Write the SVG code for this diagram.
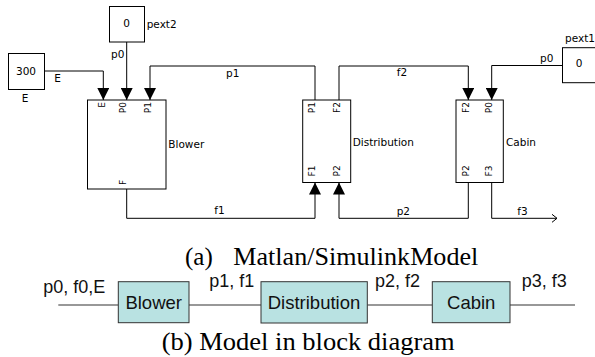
<svg xmlns="http://www.w3.org/2000/svg" width="595" height="357" viewBox="0 0 595 357">
<style>
.bg{fill:#ffffff}
.blk{fill:#ffffff;stroke:#000;stroke-width:1}
.ln{fill:none;stroke:#000;stroke-width:1}
.lbl{font-family:"DejaVu Sans",sans-serif;font-size:10.5px;fill:#000}
.port{font-family:"DejaVu Sans",sans-serif;font-size:9px;fill:#000}
.bx{fill:#b9e2e2;stroke:#333;stroke-width:1}
.bl{fill:none;stroke:#333;stroke-width:1.2}
.bt{font-family:"Liberation Sans",Arial,sans-serif;font-size:18.5px;fill:#111;text-anchor:middle}
.bs{font-family:"Liberation Sans",Arial,sans-serif;font-size:18px;fill:#111}
.cap{font-family:"Liberation Serif","Times New Roman",serif;font-size:25px;fill:#000}
</style>
<defs>
<marker id="ah" markerUnits="userSpaceOnUse" markerWidth="12" markerHeight="12" viewBox="0 0 12 12" refX="12" refY="6" orient="auto">
<path d="M0,0 L12,6 L0,12 Z" fill="#000"/>
</marker>
<marker id="oa" markerUnits="userSpaceOnUse" markerWidth="6" markerHeight="10" viewBox="0 0 6 10" refX="5.5" refY="5" orient="auto">
<path d="M0.5,1 L5.5,5 L0.5,9" fill="none" stroke="#000" stroke-width="1"/>
</marker>
</defs>
<rect class="bg" x="0" y="0" width="595" height="357"/>

<g id="connectors">
<path class="ln" d="M44,71 H103.3 V100" marker-end="url(#ah)"/>
<path class="ln" d="M126.7,42 V100" marker-end="url(#ah)"/>
<path class="ln" d="M315,100 V66 H150 V100" marker-end="url(#ah)"/>
<path class="ln" d="M339,100 V66 H468.3 V100" marker-end="url(#ah)"/>
<path class="ln" d="M562.3,65.5 H491.7 V100" marker-end="url(#ah)"/>
<path class="ln" d="M126.7,189 V218.3 H315 V182.5" marker-end="url(#ah)"/>
<path class="ln" d="M468.3,182.5 V218.3 H339 V182.5" marker-end="url(#ah)"/>
<path class="ln" d="M491.7,182.5 V218.3 H557" marker-end="url(#oa)"/>
<text class="lbl" x="54.3" y="82.3">E</text>
<text class="lbl" x="111" y="58.3">p0</text>
<text class="lbl" x="226" y="76.7">p1</text>
<text class="lbl" x="396.7" y="76">f2</text>
<text class="lbl" x="540" y="62">p0</text>
<text class="lbl" x="214.3" y="214.3">f1</text>
<text class="lbl" x="396.7" y="215">p2</text>
<text class="lbl" x="517.3" y="215">f3</text>
</g>

<g id="const-E">
<rect class="blk" x="8.5" y="53.5" width="36" height="36"/>
<text class="lbl" x="26" y="75" text-anchor="middle">300</text>
<text class="lbl" x="25" y="102.3" text-anchor="middle">E</text>
</g>

<g id="pext2">
<rect class="blk" x="109.5" y="6.5" width="35" height="35.5"/>
<text class="lbl" x="126.5" y="27" text-anchor="middle">0</text>
<text class="lbl" x="146.7" y="28">pext2</text>
</g>

<g id="pext1">
<rect class="blk" x="562.5" y="47.7" width="40" height="35"/>
<text class="lbl" x="579" y="67" text-anchor="middle">0</text>
<text class="lbl" x="565" y="41.7">pext1</text>
</g>

<g id="blower">
<rect class="blk" x="87.5" y="100" width="78.5" height="89"/>
<text class="port" transform="translate(104.5,102) rotate(-90)" text-anchor="end">E</text>
<text class="port" transform="translate(126,102) rotate(-90)" text-anchor="end">P0</text>
<text class="port" transform="translate(150.5,102) rotate(-90)" text-anchor="end">P1</text>
<text class="port" transform="translate(126,185) rotate(-90)">F</text>
<text class="lbl" x="168.3" y="148.3">Blower</text>
</g>

<g id="distribution">
<rect class="blk" x="302.7" y="100" width="48" height="82.5"/>
<text class="port" transform="translate(314.5,102) rotate(-90)" text-anchor="end">P1</text>
<text class="port" transform="translate(339.5,102) rotate(-90)" text-anchor="end">F2</text>
<text class="port" transform="translate(314.5,176.5) rotate(-90)">F1</text>
<text class="port" transform="translate(339.5,176.5) rotate(-90)">P2</text>
<text class="lbl" x="352.7" y="146">Distribution</text>
</g>

<g id="cabin">
<rect class="blk" x="456" y="100" width="47.3" height="82.5"/>
<text class="port" transform="translate(468.5,102) rotate(-90)" text-anchor="end">F2</text>
<text class="port" transform="translate(492,102) rotate(-90)" text-anchor="end">P0</text>
<text class="port" transform="translate(468.5,176.5) rotate(-90)">P2</text>
<text class="port" transform="translate(492,176.5) rotate(-90)">F3</text>
<text class="lbl" x="506" y="146">Cabin</text>
</g>

<text class="cap" x="185" y="265">(a)</text>
<text class="cap" x="233.3" y="265" textLength="245" lengthAdjust="spacingAndGlyphs">Matlan/SimulinkModel</text>

<g id="bd-connectors">
<path class="bl" d="M58.3,305 H118.3 M189,305 H261 M367.3,305 H432.3 M510,305 H575"/>
<text class="bs" x="43.3" y="293">p0, f0,E</text>
<text class="bs" x="209.3" y="287.3">p1, f1</text>
<text class="bs" x="375" y="287.3">p2, f2</text>
<text class="bs" x="521.7" y="287.3">p3, f3</text>
</g>
<g id="bd-blower">
<rect class="bx" x="118.3" y="281.7" width="70.7" height="41"/>
<text class="bt" x="153.7" y="308.5">Blower</text>
</g>
<g id="bd-distribution">
<rect class="bx" x="261" y="281.7" width="106.3" height="41.3"/>
<text class="bt" x="314" y="308.5">Distribution</text>
</g>
<g id="bd-cabin">
<rect class="bx" x="432.3" y="281.7" width="77.7" height="41"/>
<text class="bt" x="471.2" y="308.5">Cabin</text>
</g>

<text class="cap" x="161.7" y="350" textLength="293" lengthAdjust="spacingAndGlyphs">(b) Model in block diagram</text>
</svg>
